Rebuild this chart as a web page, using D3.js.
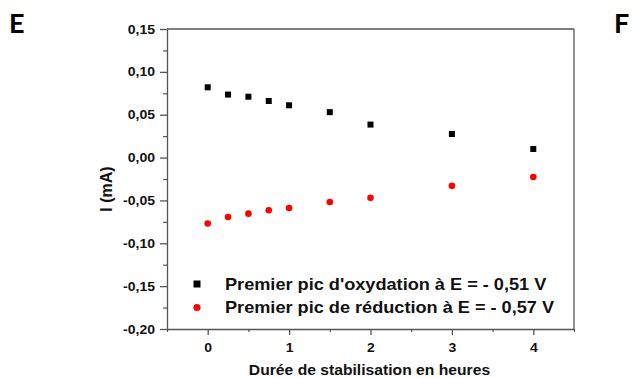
<!DOCTYPE html>
<html><head><meta charset="utf-8">
<script src="https://cdn.jsdelivr.net/npm/d3@7"></script>
<style>html,body{margin:0;padding:0;background:#fff;}svg{display:block;}</style>
</head><body>
<svg id="c" width="633" height="378"></svg>
<script>
const hours = [0, 0.25, 0.5, 0.75, 1, 1.5, 2, 3, 4];
const oxydation = [0.082, 0.0735, 0.071, 0.066, 0.061, 0.053, 0.0385, 0.0275, 0.010];
const reduction = [-0.077, -0.0693, -0.0654, -0.0615, -0.0588, -0.0518, -0.047, -0.033, -0.0226];
const seriesNames = ["Premier pic d'oxydation à E = - 0,51 V", "Premier pic de réduction à E = - 0,57 V"];
const xTicks = [0, 1, 2, 3, 4];
const xTickLabels = ["0", "1", "2", "3", "4"];
const xMinor = [-0.5, 0.5, 1.5, 2.5, 3.5, 4.5];
const yTicks = [0.15, 0.10, 0.05, 0.00, -0.05, -0.10, -0.15, -0.20];
const yTickLabels = ["0,15", "0,10", "0,05", "0,00", "-0,05", "-0,10", "-0,15", "-0,20"];
const yMinor = [0.125, 0.075, 0.025, -0.025, -0.075, -0.125, -0.175];
const xTitle = "Durée de stabilisation en heures";
const yTitle = "I (mA)";
const panelLabels = ["E", "F"];

const svg = d3.select("#c");
const L = 167, R = 574, T = 29, B = 329;
const SX = 1.12;
const FONT = "'Liberation Sans', Arial, sans-serif";
const x = d3.scaleLinear().domain([-0.5, 4.5]).range([L, R]);
const y = d3.scaleLinear().domain([-0.20, 0.15]).range([B, T]);
const axisColor = "#555";

// frame top/right
svg.append("line").attr("x1", L).attr("x2", R).attr("y1", T).attr("y2", T).attr("stroke", axisColor).attr("stroke-width", 1.3);
svg.append("line").attr("x1", R).attr("x2", R).attr("y1", T).attr("y2", B).attr("stroke", axisColor).attr("stroke-width", 1.3);

// minor ticks
const gxm = svg.append("g").attr("transform", `translate(0,${B})`)
  .call(d3.axisBottom(x).tickValues(xMinor).tickSize(3).tickFormat(""));
const gym = svg.append("g").attr("transform", `translate(${L},0)`)
  .call(d3.axisLeft(y).tickValues(yMinor).tickSize(4).tickFormat(""));
[gxm, gym].forEach(g => { g.select(".domain").remove(); g.selectAll("line").attr("stroke", axisColor).attr("stroke-width", 1.2); });

// major axes
const gx = svg.append("g").attr("transform", `translate(0,${B})`)
  .call(d3.axisBottom(x).tickValues(xTicks).tickSize(6).tickSizeOuter(0).tickPadding(8)
    .tickFormat((d, i) => xTickLabels[i]));
const gy = svg.append("g").attr("transform", `translate(${L},0)`)
  .call(d3.axisLeft(y).tickValues(yTicks).tickSize(7).tickSizeOuter(0).tickPadding(5)
    .tickFormat((d, i) => yTickLabels[i]));
[gx, gy].forEach(g => {
  g.select(".domain").attr("stroke", axisColor).attr("stroke-width", 1.3);
  g.selectAll("line").attr("stroke", axisColor).attr("stroke-width", 1.3);
  g.selectAll("text").attr("fill", "#111").style("font-family", FONT)
    .style("font-size", "12.5px").style("font-weight", "bold");
});
gx.selectAll(".tick text").attr("transform", `scale(${SX},1)`);
gy.selectAll(".tick text").attr("x", -12 / SX).attr("transform", `scale(${SX},1)`);

// data
svg.append("g").selectAll("rect").data(hours).join("rect")
  .attr("x", (d) => x(d) - 3).attr("y", (d, i) => y(oxydation[i]) - 3)
  .attr("width", 6).attr("height", 6).attr("fill", "#000");
svg.append("g").selectAll("circle").data(hours).join("circle")
  .attr("cx", (d) => x(d)).attr("cy", (d, i) => y(reduction[i]))
  .attr("r", 3.3).attr("fill", "#ff0000");

// legend
const leg = svg.append("g");
leg.append("rect").attr("x", 197 - 3.5).attr("y", 284 - 3.5).attr("width", 7).attr("height", 7).attr("fill", "#000");
leg.append("circle").attr("cx", 197).attr("cy", 307.5).attr("r", 3.6).attr("fill", "#ff0000");
seriesNames.forEach((s, i) => {
  leg.append("text").attr("transform", `translate(225,${290 + i * 23.3}) scale(1.1,1)`)
    .style("font-family", FONT).style("font-size", "16.5px").style("font-weight", "bold")
    .attr("fill", "#111").text(s);
});

// axis titles
svg.append("text").attr("transform", `translate(${(x(-0.5) + x(4.5)) / 2 - 1},375) scale(${SX},1)`)
  .attr("text-anchor", "middle").style("font-family", FONT).style("font-size", "14px")
  .style("font-weight", "bold").attr("fill", "#111").text(xTitle);
svg.append("text").attr("transform", `translate(112,189) rotate(-90)`)
  .attr("text-anchor", "middle").style("font-family", FONT).style("font-size", "16px")
  .style("font-weight", "bold").attr("fill", "#111").text(yTitle);

// panel labels
svg.append("text").attr("x", 9).attr("y", 33).style("font-family", "Lato, 'Open Sans', sans-serif")
  .style("font-size", "27px").style("font-weight", "bold").attr("fill", "#000").text(panelLabels[0]);
svg.append("text").attr("x", 614).attr("y", 33).style("font-family", "Lato, 'Open Sans', sans-serif")
  .style("font-size", "27px").style("font-weight", "bold").attr("fill", "#000").text(panelLabels[1]);
</script>
</body></html>
